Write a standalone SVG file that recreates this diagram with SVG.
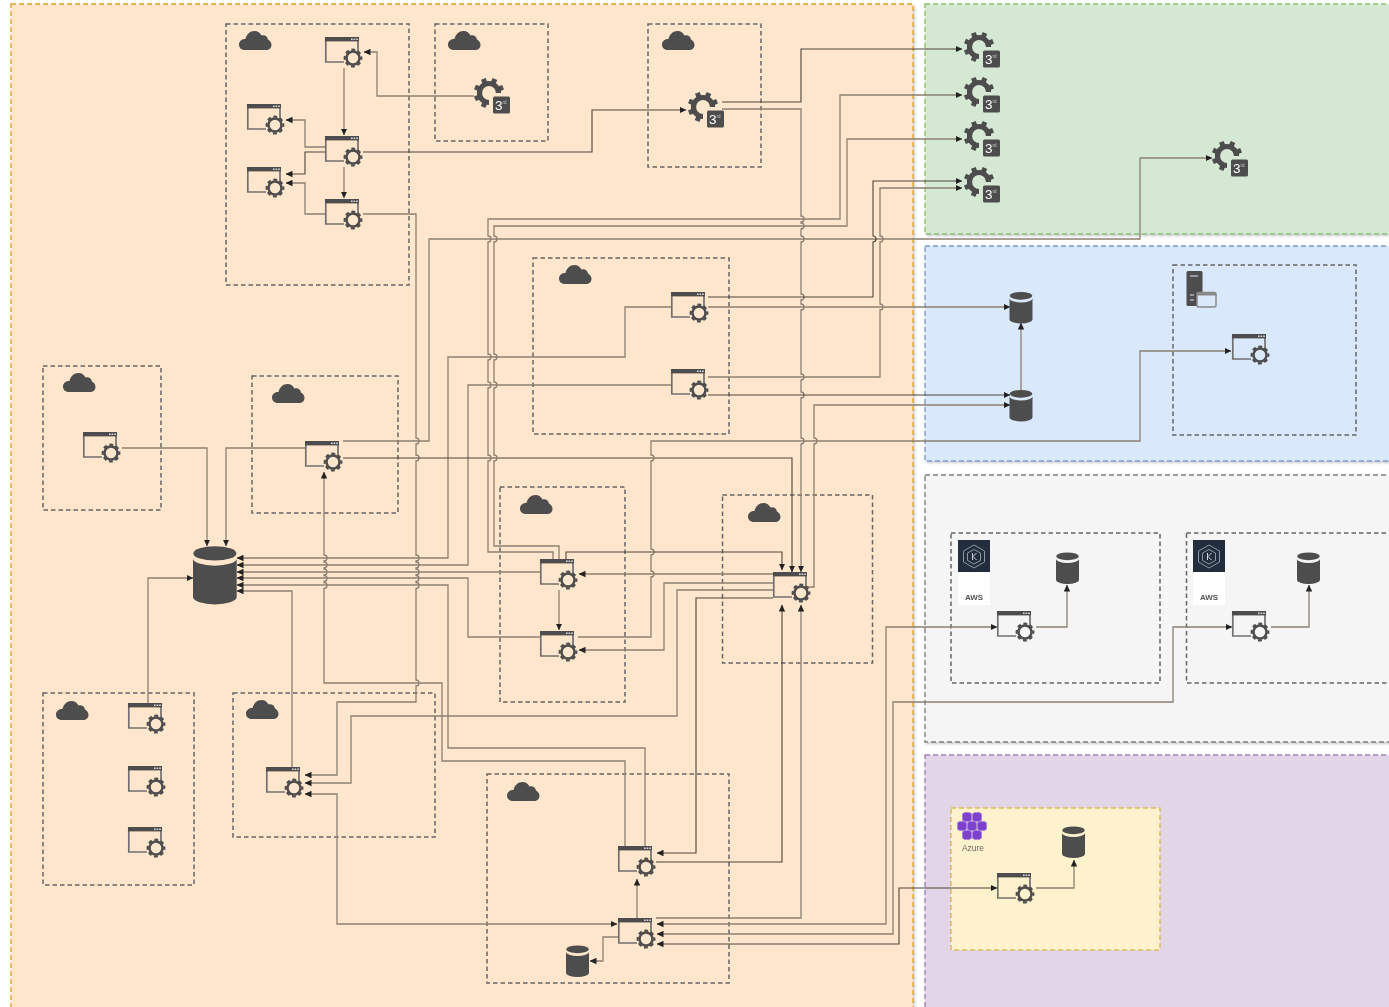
<svg xmlns="http://www.w3.org/2000/svg" width="1389" height="1007" viewBox="0 0 1389 1007">
<style>
.panel{stroke-width:1.4;stroke-dasharray:5 3;filter:url(#sh)}
.box{fill:none;stroke:#666;stroke-width:1.5;stroke-dasharray:4.5 3}
.c path{fill:none;stroke:#8c8072;stroke-width:1.3;marker-end:url(#a)}
.c path.d{stroke:#4c443a;stroke-width:1.1}
.c path.b{marker-start:url(#a)}
.c path.n{marker-end:none}
.ic{fill:#4d4d4d}
.t{font-family:"Liberation Sans",Arial,sans-serif}
</style>
<defs>
<filter id="sh" x="-2%" y="-2%" width="104%" height="104%"><feDropShadow dx="1.5" dy="1.5" stdDeviation="1" flood-color="#556" flood-opacity=".3"/></filter>
<filter id="soft" filterUnits="userSpaceOnUse" x="0" y="0" width="1389" height="1007"><feGaussianBlur stdDeviation="0.35"/></filter>
<marker id="a" markerUnits="userSpaceOnUse" markerWidth="7" markerHeight="7" viewBox="0 0 7 7" refX="6.5" refY="3.5" orient="auto-start-reverse"><path d="M0 .3L6.800 3.500L0 6.700z" fill="#222"/></marker>
<g id="app">
<path d="M33 16V1H.8V25H19" fill="none" stroke="#707070" stroke-width="1.7"/>
<rect width="34" height="4.400" class="ic"/>
<path d="M26 2.200h1.600M28.600 2.200h1.600M31.200 2.200h1.600" stroke="#ddd" stroke-width="1.400"/>
<circle cx="28" cy="21" r="6.500" fill="none" stroke="#4d4d4d" stroke-width="2.500"/>
<circle cx="28" cy="21" r="8.300" fill="none" stroke="#4d4d4d" stroke-width="2.200" stroke-dasharray="3.800 2.720" stroke-dashoffset="1.900"/>
</g>
<g id="g3">
<path d="M0 9.500A9.500 9.500 0 1 1 9.500 0" fill="none" stroke="#4d4d4d" stroke-width="5.200"/>
<g class="ic"><rect x="-2.500" y="-15.200" width="5" height="5" transform="rotate(-22)"/><rect x="-2.500" y="-15.200" width="5" height="5" transform="rotate(23)"/><rect x="-2.500" y="-15.200" width="5" height="5" transform="rotate(68)"/><rect x="-2.500" y="-15.200" width="5" height="5" transform="rotate(-67)"/><rect x="-2.500" y="-15.200" width="5" height="5" transform="rotate(-112)"/><rect x="-2.500" y="-15.200" width="5" height="5" transform="rotate(-157)"/></g>
<rect x="4" y="3.500" width="17" height="17" rx="1.500" class="ic"/>
<text x="6" y="17" class="t" font-size="13.500" fill="#fff">3</text>
<text x="13.500" y="11" class="t" font-size="4.500" fill="#ccc">rd</text>
</g>
<path id="cl" class="ic" d="M6 19C2 19 0 16.500 0 13.500C0 10 3 8 6.500 8C7.500 3.500 11 0 15.500 0C19 0 21 2 22.500 4.500C25 3.500 28.500 5 29 8.500C31 9.500 32.500 11.500 32.500 14C32.500 17 30 19 27 19Z"/>
<g id="db" class="ic"><ellipse cx="11.500" cy="4.300" rx="11.300" ry="3.900"/><path d="M0 7V28A11.500 4 0 0 0 23 28V7A11.500 4 0 0 1 0 7Z"/></g>
<g id="k8">
<rect width="32" height="65" fill="#fff"/><rect width="32" height="32" fill="#232f3e"/>
<path d="M16 5L26.500 11V22L16 28L5.500 22V11Z M16 9.500L22.500 13V20.500L16 24L9.500 20.500V13Z" fill="none" stroke="#8d97a3" stroke-width="1"/>
<path d="M14.500 13V20M18.500 13L15 16.500L18.500 20" fill="none" stroke="#cfd4da" stroke-width="1"/>
<text x="16" y="60" class="t" text-anchor="middle" font-size="8" font-weight="bold" fill="#555">AWS</text>
</g>
<path id="hx" d="M-4.500-3.200L-2.200-4.600H2.200L4.500-3.200V3.200L2.200 4.600H-2.200L-4.500 3.200Z" fill="#7d43cc" stroke="#a57be0" stroke-width=".7"/>
</defs>
<g filter="url(#soft)">
<rect width="1389" height="1007" fill="#fff"/>
<g id="panels">
<rect class="panel" x="11" y="4" width="902" height="1012" fill="#ffe6cc" stroke="#e3a62a"/>
<rect class="panel" x="925" y="4" width="480" height="230" fill="#d5e8d4" stroke="#8fc070"/>
<rect class="panel" x="925" y="246" width="480" height="215" fill="#dae8fc" stroke="#7c9ccb"/>
<rect class="panel" x="925" y="475" width="480" height="267" fill="#f5f5f5" stroke="#808080"/>
<rect class="panel" x="925" y="755" width="480" height="262" fill="#e1d5e7" stroke="#a583b6"/>
<rect x="951" y="808" width="209" height="142" fill="#fff2cc" stroke="#dcbc5e" stroke-width="1.500" stroke-dasharray="5 3"/>
</g>
<g id="containers">
<rect class="box" x="226" y="24" width="183" height="261"/>
<rect class="box" x="435" y="24" width="113" height="117"/>
<rect class="box" x="648" y="24" width="113" height="143"/>
<rect class="box" x="43" y="366" width="118" height="144"/>
<rect class="box" x="252" y="376" width="146" height="137"/>
<rect class="box" x="533" y="258" width="196" height="176"/>
<rect class="box" x="500" y="487" width="125" height="215"/>
<rect class="box" x="722.500" y="495" width="150" height="168"/>
<rect class="box" x="43" y="693" width="151" height="192"/>
<rect class="box" x="233" y="693" width="202" height="144"/>
<rect class="box" x="487" y="774" width="242" height="209"/>
<rect class="box" x="951" y="533" width="209" height="150"/>
<rect class="box" x="1186.500" y="533" width="220" height="150"/>
<rect class="box" x="1173" y="265" width="183" height="170"/>
</g>
<g id="connectors" class="c">
<path d="M474 96H377V52H364"/>
<path d="M344 68V135"/>
<path d="M325 147H305V120H286"/>
<path class="d" d="M325 152H305V174H286"/>
<path d="M344 167V198"/>
<path d="M325 214H305V183H286"/>
<path class="d" d="M363 152H592V110H686"/>
<path d="M363 214H416V438a3 3 0 0 1 0 6V455a3 3 0 0 1 0 6V555a3 3 0 0 1 0 6V562a3 3 0 0 1 0 6V569a3 3 0 0 1 0 6V575.500a3 3 0 0 1 0 6V582.500a3 3 0 0 1 0 6V680a3 3 0 0 1 0 6V702H337V775H305"/>
<path d="M671 307H625V357H448V558H237"/>
<path d="M671 385H468V565H237"/>
<path d="M540 572H237"/>
<path d="M540 637H468V578H237"/>
<path d="M645 846V748H448V585H237"/>
<path d="M292 767V591H237"/>
<path class="b n" d="M324 472V555a3 3 0 0 1 0 6V562a3 3 0 0 1 0 6V569a3 3 0 0 1 0 6V575.500a3 3 0 0 1 0 6V582.500a3 3 0 0 1 0 6V683H442V761H625V846"/>
<path d="M122 448H207V546"/>
<path d="M305 448H226V546"/>
<path d="M148 703V578H193"/>
<path d="M343 441H429V239H1140V158H1212"/>
<path class="d" d="M343 458H792V572"/>
<path class="d" d="M722 102H801V49H962"/>
<path d="M722 109H801V216a3 3 0 0 1 0 6V223a3 3 0 0 1 0 6V236a3 3 0 0 1 0 6V294a3 3 0 0 1 0 6V304a3 3 0 0 1 0 6V374a3 3 0 0 1 0 6V392a3 3 0 0 1 0 6V438a3 3 0 0 1 0 6V572"/>
<path d="M578 637H651V577a3 3 0 0 0 0-6V555a3 3 0 0 0 0-6V461a3 3 0 0 0 0-6V441H1140V351H1231"/>
<path class="d" d="M566 559V552H782V570"/>
<path d="M553 559V552H488V461a3 3 0 0 0 0-6V388a3 3 0 0 0 0-6V360a3 3 0 0 0 0-6V242a3 3 0 0 0 0-6V219H840V95H962"/>
<path d="M559 559V546H494V461a3 3 0 0 0 0-6V388a3 3 0 0 0 0-6V360a3 3 0 0 0 0-6V242a3 3 0 0 0 0-6V226H847V139H962"/>
<path class="d" d="M708 297H873V242a3 3 0 0 0 0-6V181H962"/>
<path d="M708 377H880V310a3 3 0 0 0 0-6V242a3 3 0 0 0 0-6V188H962"/>
<path d="M708 307H1010"/>
<path class="d" d="M708 395H1010"/>
<path d="M807 587H814V444a3 3 0 0 0 0-6V405H1010"/>
<path d="M1021 390V323"/>
<path d="M773 574H579"/>
<path d="M559 590V630"/>
<path d="M773 583H664V650H579"/>
<path d="M773 590H677V716H351V783H305"/>
<path class="d" d="M773 598H696V853H657"/>
<path class="d" d="M656 862H782V605"/>
<path d="M656 918H801V605"/>
<path class="b" d="M305 794H337V924H617"/>
<path class="b" d="M657 924H886V627H997"/>
<path class="b" d="M657 934H893V702H1173V627H1232"/>
<path class="b d" d="M657 944H899V888H997"/>
<path d="M1036 627H1067V585"/>
<path d="M1271 627H1309V585"/>
<path d="M1036 888H1074V860"/>
<path d="M637 918V879"/>
<path d="M618 937H603V961H590"/>
</g>
<g id="clouds">
<use href="#cl" x="239" y="31"/><use href="#cl" x="448" y="31"/><use href="#cl" x="662" y="31"/>
<use href="#cl" x="63" y="373"/><use href="#cl" x="272" y="384"/><use href="#cl" x="559" y="265"/>
<use href="#cl" x="520" y="495"/><use href="#cl" x="748" y="503"/><use href="#cl" x="56" y="701"/>
<use href="#cl" x="246" y="700"/><use href="#cl" x="507" y="782"/>
</g>
<g id="app1"><use href="#app" x="325" y="37"/></g>
<g id="app2"><use href="#app" x="247" y="104"/></g>
<g id="app3"><use href="#app" x="325" y="136"/></g>
<g id="app4"><use href="#app" x="247" y="167"/></g>
<g id="app5"><use href="#app" x="325" y="199"/></g>
<g id="app6"><use href="#app" x="671" y="292"/></g>
<g id="app7"><use href="#app" x="671" y="369"/></g>
<g id="app8"><use href="#app" x="83" y="432"/></g>
<g id="app9"><use href="#app" x="305" y="441"/></g>
<g id="app10"><use href="#app" x="540" y="559"/></g>
<g id="app11"><use href="#app" x="540" y="631"/></g>
<g id="app12"><use href="#app" x="773" y="572"/></g>
<g id="app13"><use href="#app" x="128" y="703"/></g>
<g id="app14"><use href="#app" x="128" y="766"/></g>
<g id="app15"><use href="#app" x="128" y="827"/></g>
<g id="app16"><use href="#app" x="266" y="767"/></g>
<g id="app17"><use href="#app" x="618" y="846"/></g>
<g id="app18"><use href="#app" x="618" y="918"/></g>
<g id="app19"><use href="#app" x="997" y="611"/></g>
<g id="app20"><use href="#app" x="1232" y="611"/></g>
<g id="app21"><use href="#app" x="1232" y="334"/></g>
<g id="app22"><use href="#app" x="997" y="873"/></g>
<g id="ext1"><use href="#g3" x="489" y="93"/></g>
<g id="ext2"><use href="#g3" x="703" y="107"/></g>
<g id="ext3"><use href="#g3" x="979" y="47"/></g>
<g id="ext4"><use href="#g3" x="979" y="92"/></g>
<g id="ext5"><use href="#g3" x="979" y="136"/></g>
<g id="ext6"><use href="#g3" x="979" y="182"/></g>
<g id="ext7"><use href="#g3" x="1227" y="156"/></g>
<g id="db0"><use href="#db" transform="translate(193 545.500) scale(1.9 1.84)"/></g>
<g id="db1"><use href="#db" x="1009.500" y="291.500"/></g>
<g id="db2"><use href="#db" x="1009.500" y="389.500"/></g>
<g id="db3"><use href="#db" x="1056" y="552"/></g>
<g id="db4"><use href="#db" x="1297" y="552"/></g>
<g id="db5"><use href="#db" x="1062" y="826"/></g>
<g id="db6"><use href="#db" x="566" y="945"/></g>
<g id="aws1"><use href="#k8" x="958" y="540"/></g>
<g id="aws2"><use href="#k8" x="1193" y="540"/></g>
<g id="azure">
<use href="#hx" x="967" y="817"/><use href="#hx" x="977" y="817"/>
<use href="#hx" x="962" y="826"/><use href="#hx" x="972" y="826"/><use href="#hx" x="982" y="826"/>
<use href="#hx" x="967" y="835"/><use href="#hx" x="977" y="835"/>
<text x="973" y="851" class="t" text-anchor="middle" font-size="8.500" fill="#666">Azure</text>
</g>
<g id="server">
<rect x="1186.500" y="271" width="16" height="35" rx="1.500" class="ic"/>
<path d="M1190 276h8M1190 295h4M1190 300h4" stroke="#dae8fc" stroke-width="1.200"/>
<rect x="1197" y="292.500" width="19" height="14.500" rx="1.500" fill="#dae8fc" stroke="#888" stroke-width="1.500"/>
<rect x="1197" y="292.500" width="19" height="3" fill="#888"/>
</g>
</g>
</svg>
